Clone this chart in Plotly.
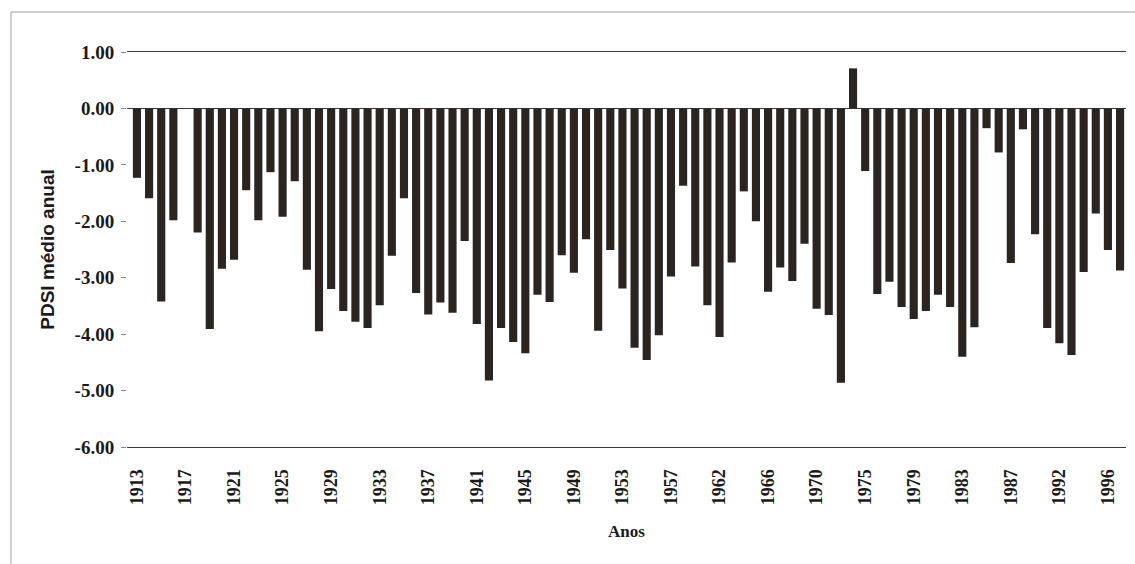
import plotly.graph_objects as go

years = [
    "1913", "1914", "1915", "1916", "1917", "1918", "1919", "1920", "1921", "1922",
    "1923", "1924", "1925", "1926", "1927", "1928", "1929", "1930", "1931", "1932",
    "1933", "1934", "1935", "1936", "1937", "1938", "1939", "1940", "1941", "1942",
    "1943", "1944", "1945", "1946", "1947", "1948", "1949", "1950", "1951", "1952",
    "1953", "1954", "1955", "1956", "1957", "1958", "1959", "1960", "1962", "1963",
    "1964", "1965", "1966", "1967", "1968", "1969", "1970", "1971", "1972", "1973",
    "1975", "1976", "1977", "1978", "1979", "1980", "1981", "1982", "1983", "1984",
    "1985", "1986", "1987", "1988", "1989", "1990", "1992", "1993", "1994", "1995",
    "1996", "1997",
]

pdsi = [
    -1.23, -1.59, -3.42, -1.98, None, -2.20, -3.91, -2.84, -2.68, -1.45,
    -1.98, -1.13, -1.92, -1.29, -2.86, -3.95, -3.20, -3.59, -3.78, -3.89,
    -3.49, -2.61, -1.59, -3.27, -3.65, -3.44, -3.62, -2.35, -3.82, -4.82,
    -3.89, -4.14, -4.34, -3.30, -3.43, -2.60, -2.91, -2.32, -3.94, -2.51,
    -3.19, -4.24, -4.46, -4.02, -2.98, -1.37, -2.80, -3.49, -4.05, -2.73,
    -1.47, -2.00, -3.25, -2.82, -3.06, -2.40, -3.55, -3.66, -4.86, 0.71,
    -1.11, -3.29, -3.07, -3.52, -3.73, -3.59, -3.30, -3.52, -4.40, -3.88,
    -0.35, -0.78, -2.74, -0.37, -2.23, -3.89, -4.16, -4.37, -2.90, -1.86,
    -2.51, -2.87,
]

x_tick_labels = ["1913", "1917", "1921", "1925", "1929", "1933", "1937", "1941",
                 "1945", "1949", "1953", "1957", "1962", "1966", "1970", "1975",
                 "1979", "1983", "1987", "1992", "1996"]

y_tick_values = [1, 0, -1, -2, -3, -4, -5, -6]
y_tick_labels = ["1.00", "0.00", "-1.00", "-2.00", "-3.00", "-4.00", "-5.00", "-6.00"]

W, H = 1135, 564
L, R, T, B = 127, 9, 52, 117
pw = W - L - R
ph = H - T - B

fig = go.Figure()
fig.add_trace(go.Bar(
    x=years, y=pdsi,
    marker=dict(color="#2a2520", line=dict(width=0)),
    hoverinfo="x+y",
))

serif = "Liberation Serif"

fig.update_layout(
    width=W, height=H,
    margin=dict(l=L, r=R, t=T, b=B, autoexpand=False),
    paper_bgcolor="white",
    plot_bgcolor="white",
    bargap=0.33,
    showlegend=False,
    xaxis=dict(
        type="category",
        range=[-0.82, len(years) - 1 + 0.49],
        tickmode="array",
        tickvals=x_tick_labels,
        ticktext=x_tick_labels,
        tickangle=-90,
        tickfont=dict(family=serif, size=18, color="#1a1a1a", weight="bold"),
        ticklabelstandoff=14,
        showgrid=False,
        showline=True,
        mirror=True,
        linecolor="#3a3a3a",
        linewidth=1,
        ticks="",
        title=dict(text="Anos", font=dict(family=serif, size=17, color="#1a1a1a", weight="bold"),
                   standoff=20),
    ),
    yaxis=dict(
        range=[-6, 1],
        tickmode="array",
        tickvals=y_tick_values,
        ticktext=y_tick_labels,
        tickfont=dict(family=serif, size=19, color="#1a1a1a", weight="bold"),
        showgrid=False,
        showline=False,
        zeroline=True,
        zerolinecolor="#3a3a3a",
        zerolinewidth=1,
        ticks="outside",
        ticklen=5,
        tickcolor="#888888",
        ticklabelstandoff=3,
        title=dict(text="PDSI médio anual",
                   font=dict(family="Liberation Sans", size=19, color="#1a1a1a", weight="bold"),
                   standoff=14),
    ),
    shapes=[
        dict(type="rect", xref="paper", yref="paper",
             x0=(11 - L) / pw, x1=(1150 - L) / pw,
             y0=(H - B - 580) / ph, y1=(H - B - 12) / ph,
             line=dict(color="#a0a0a0", width=1), fillcolor="rgba(0,0,0,0)", layer="below"),
    ],
)

fig.write_html("out.html", config={"displayModeBar": False},
               post_script="document.body.style.margin='0';")
